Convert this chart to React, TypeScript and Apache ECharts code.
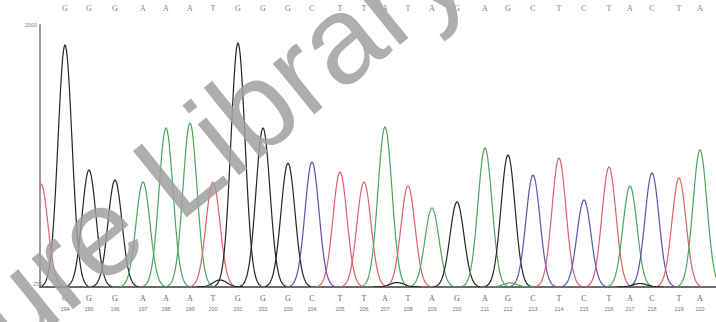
import React, { useEffect, useRef } from "react";
import * as echarts from "echarts";

// Called bases (left to right)
const bases = ["G","G","G","A","A","A","T","G","G","G","C","T","T","A","T","A","G","A","G","C","T","C","T","A","C","T","A"];
// Peak positions (scan offset from the left axis)
const basePositions = [25,49,75,103,126,150,173,198,223,248,272,300,324,345,368,392,417,445,468,493,519,544,569,590,612,639,660];
// Peak signal heights
const peakHeights = [2420,1170,1070,1050,1590,1640,1050,2440,1590,1240,1250,1150,1050,1600,1010,790,850,1390,1320,1120,1290,870,1200,1010,1140,1090,1370];
// Base numbers printed under the trace
const baseNumbers = [194,195,196,197,198,199,200,201,202,203,204,205,206,207,208,209,210,211,212,213,214,215,216,217,218,219,220];
// Minor / partial peaks: position, height, base
const minorPositions = [1, 180, 357, 470, 600];
const minorHeights = [1030, 70, 45, 40, 35];
const minorBases = ["T", "G", "G", "A", "G"];
// Y axis labels (top, bottom)
const yTickLabels = ["2000", "250"];
const watermarkText = "Nature Library";

const TRACE_COLORS: Record<string, string> = { G: "#262626", A: "#4aa85a", T: "#e0606e", C: "#5a56b0" };
const LABEL_COLORS: Record<string, string> = { G: "#666666", A: "#66b070", T: "#e08090", C: "#7a78c8" };
const Y_MAX = 2620;
const SIGMA = 7;

export default function App() {
  const ref = useRef<HTMLDivElement>(null);
  useEffect(() => {
    if (!ref.current) return;
    const chart = echarts.init(ref.current, undefined, { renderer: "svg" });
    const peakData = basePositions.map((p, i) => [p, peakHeights[i], bases[i]]);
    const minorData = minorPositions.map((p, i) => [p, minorHeights[i], minorBases[i]]);
    const allPeaks = peakData.concat(minorData);

    const renderItem = (params: any, api: any) => {
      const idx = params.dataIndex;
      const item = allPeaks[idx];
      const pos = api.value(0);
      const h = api.value(1);
      const base = item[2] as string;
      const pts: number[][] = [];
      const n = 30;
      for (let k = -n; k <= n; k++) {
        const dx = (k * SIGMA * 3.3) / n;
        pts.push(api.coord([pos + dx, h * Math.exp(-(dx * dx) / (2 * SIGMA * SIGMA))]));
      }
      return {
        type: "polyline",
        shape: { points: pts },
        style: { stroke: TRACE_COLORS[base], lineWidth: 1.2, fill: "none" },
      };
    };

    const labelFor = (arr: any[]) => (v: number) => {
      const i = basePositions.indexOf(v);
      return i >= 0 ? String(arr[i]) : "";
    };

    chart.setOption({
      animation: false,
      backgroundColor: "#ffffff",
      grid: { left: 40, right: 0, top: 25, bottom: 35 },
      xAxis: [
        {
          type: "value", min: 0, max: 676, position: "bottom",
          axisLine: { show: true, onZero: false, lineStyle: { color: "#3a3a3a", width: 1.5 } },
          axisTick: { show: false }, splitLine: { show: false },
          axisLabel: {
            customValues: basePositions, formatter: labelFor(bases), margin: 7,
            fontSize: 8, fontFamily: "Liberation Serif",
            color: (v: number) => LABEL_COLORS[bases[basePositions.indexOf(v)]] || "#666",
          },
        },
        {
          type: "value", min: 0, max: 676, position: "bottom", offset: 14,
          axisLine: { show: false }, axisTick: { show: false }, splitLine: { show: false },
          axisLabel: { customValues: basePositions, formatter: labelFor(baseNumbers), margin: 5, fontSize: 5.5, color: "#777", fontFamily: "Liberation Sans" },
        },
        {
          type: "value", min: 0, max: 676, position: "top", offset: 0,
          axisLine: { show: false }, axisTick: { show: false }, splitLine: { show: false },
          axisLabel: { customValues: basePositions, formatter: labelFor(bases), margin: 13, fontSize: 8, color: "#808080", fontFamily: "Liberation Serif" },
        },
      ],
      yAxis: {
        type: "value", min: 0, max: Y_MAX,
        axisLine: { show: true, lineStyle: { color: "#9a9a9a", width: 2 } },
        axisTick: { show: false }, splitLine: { show: false },
        axisLabel: {
          customValues: [Y_MAX], formatter: () => yTickLabels[0], margin: 3,
          fontSize: 5.5, color: "#888", fontFamily: "Liberation Sans",
        },
      },
      graphic: [
        { type: "text", left: 33, top: 281, style: { text: yTickLabels[1], fontSize: 5.5, fill: "#888", fontFamily: "Liberation Sans" }, z: 5 },
        {
          type: "text", x: 141, y: 199, rotation: 0.68, z: 100,
          style: {
            text: watermarkText, fontSize: 124, fontFamily: "Liberation Sans",
            fill: "rgba(160,160,160,0.85)", align: "center", verticalAlign: "middle",
          },
        },
      ],
      series: [
        {
          type: "custom", xAxisIndex: 0, yAxisIndex: 0, clip: true,
          renderItem,
          data: allPeaks.map((d) => [d[0], d[1]]),
        },
      ],
    });
    return () => chart.dispose();
  }, []);
  return <div ref={ref} style={{ position: "fixed", left: 0, top: 0, width: 716, height: 322 }} />;
}
